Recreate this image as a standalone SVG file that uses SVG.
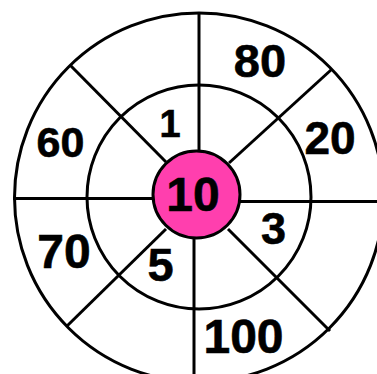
<svg xmlns="http://www.w3.org/2000/svg" width="377" height="374" viewBox="0 0 377 374">
<style>
.ln{stroke:#000;stroke-width:3;fill:none;stroke-linecap:butt}
.t{font-family:"Liberation Sans",Arial,sans-serif;font-weight:bold;font-size:47px;fill:#000;stroke:#000;stroke-width:0.6;text-anchor:middle}
</style>
<rect width="377" height="374" fill="#fff"/>
<g id="connectors">
<circle class="ln" cx="199" cy="197.5" r="184.5"/>
<circle class="ln" cx="199" cy="197" r="112"/>
<line class="ln" x1="199" y1="13" x2="199" y2="152"/>
<line class="ln" x1="194" y1="238" x2="194" y2="374"/>
<line class="ln" x1="13" y1="198.5" x2="153" y2="198.5"/>
<line class="ln" x1="239" y1="201.5" x2="377" y2="201.5"/>
<line class="ln" x1="70" y1="65" x2="166" y2="162"/>
<line class="ln" x1="331.5" y1="69.5" x2="229" y2="163"/>
<line class="ln" x1="67" y1="326" x2="166" y2="229"/>
<line class="ln" x1="228" y1="229" x2="330" y2="331"/>
</g>
<g id="center"><circle cx="196.5" cy="194.5" r="43.5" fill="#ff3fae" stroke="#000" stroke-width="3"/><text class="t" x="193" y="211" style="font-size:48px">10</text></g>
<g id="n80"><text class="t" x="260" y="76.5">80</text></g>
<g id="n1"><text class="t" x="170" y="137" style="font-size:38px">1</text></g>
<g id="n60"><text class="t" x="60.5" y="157" style="font-size:43px">60</text></g>
<g id="n20"><text class="t" x="330" y="154" style="font-size:46px">20</text></g>
<g id="n3"><text class="t" x="273.5" y="243.5" style="font-size:45px">3</text></g>
<g id="n70"><text class="t" x="64" y="267.5" style="font-size:48px">70</text></g>
<g id="n5"><text class="t" x="160.5" y="280.5" style="font-size:47px">5</text></g>
<g id="n100"><text class="t" x="243.5" y="352.5" style="font-size:48px">100</text></g>
</svg>
